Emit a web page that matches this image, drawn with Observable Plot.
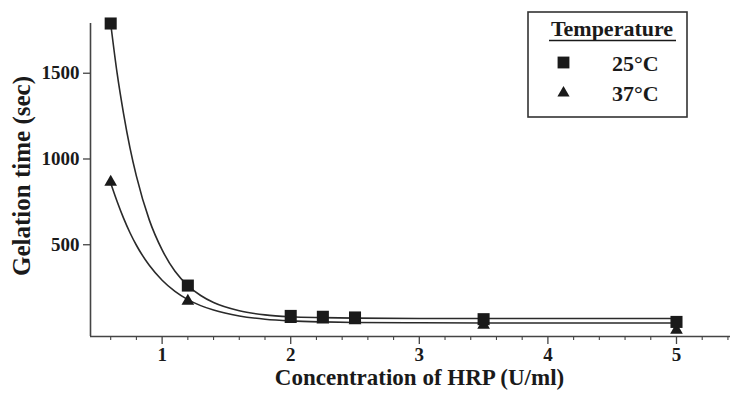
<!DOCTYPE html>
<html>
<head>
<meta charset="utf-8">
<script src="https://cdn.jsdelivr.net/npm/d3@7"></script>
<script src="https://cdn.jsdelivr.net/npm/@observablehq/plot@0.6"></script>
<style>
  html, body { margin: 0; padding: 0; background: #fff; }
  #wrap { position: relative; width: 732px; height: 394px; }
  #legend { position: absolute; left: 0; top: 0; pointer-events: none; }
</style>
</head>
<body>
<div id="wrap"></div>
<script>
// Measured data points
const conc = [0.6, 1.2, 2.0, 2.25, 2.5, 3.5, 5.0];
const t25 = [1790, 262, 85, 80, 76, 66, 50];
const t37 = [865, 172, 65, 62, 58, 32, 3];

// Fitted curves
const curveX = [0.6, 0.65, 0.7, 0.75, 0.8, 0.9, 1.0, 1.1, 1.2, 1.3, 1.4, 1.6, 1.8, 2.0, 2.25, 2.5, 3.0, 3.5, 4.0, 5.0];
const fit25 = [1790, 1500, 1265, 1065, 900, 645, 470, 345, 262, 204, 163, 115, 91, 80, 75, 72, 70, 70, 70, 70];
const fit37 = [860, 752, 655, 570, 497, 380, 293, 228, 180, 145, 119, 85, 66, 56, 50, 47, 45, 44, 44, 44];

// Axis ticks
const xTicks = [1, 2, 3, 4, 5];
const xMinorTicks = [0.6, 0.8, 1.2, 1.4, 1.6, 1.8, 2.2, 2.4, 2.6, 2.8, 3.2, 3.4, 3.6, 3.8, 4.2, 4.4, 4.6, 4.8, 5.2, 5.4];
const yTicks = [500, 1000, 1500];

const series = ["25°C", "37°C"];
const xDomain = [0.443, 5.42];
const yDomain = [-35, 1790];

const pts25 = conc.map((c, i) => ({x: c, y: t25[i]}));
const pts37 = conc.map((c, i) => ({x: c, y: t37[i]}));
const line25 = curveX.map((c, i) => ({x: c, y: fit25[i]}));
const line37 = curveX.map((c, i) => ({x: c, y: fit37[i]}));

const ink = "#1a1a1a";
const font = "'Liberation Serif', 'Times New Roman', serif";
const fmt = d => String(d);

const chart = Plot.plot({
  width: 732,
  height: 394,
  marginLeft: 90,
  marginRight: 2,
  marginTop: 23,
  marginBottom: 58,
  style: {fontFamily: font, fontWeight: "bold", fontSize: "19px", color: ink, background: "#fff", overflow: "visible"},
  x: {domain: xDomain, label: null},
  y: {domain: yDomain, label: null},
  marks: [
    Plot.ruleY([yDomain[0]], {stroke: "#444", strokeWidth: 1.6}),
    Plot.ruleX([xDomain[0]], {stroke: "#444", strokeWidth: 1.6}),
    Plot.axisX({ticks: xTicks, tickFormat: fmt, tickSize: 8, tickPadding: 3, label: null, stroke: "#444", strokeWidth: 1.3, fontSize: 19, fontWeight: "bold"}),
    Plot.axisX({ticks: xMinorTicks, tickSize: 4, text: null, label: null, stroke: "#444", strokeWidth: 1.1}),
    Plot.axisY({ticks: yTicks, tickFormat: fmt, tickSize: 7, tickPadding: 4, label: null, stroke: "#444", strokeWidth: 1.3, fontSize: 19, fontWeight: "bold"}),
    Plot.line(line25, {x: "x", y: "y", curve: "monotone-x", stroke: "#2a2a2a", strokeWidth: 1.6}),
    Plot.line(line37, {x: "x", y: "y", curve: "monotone-x", stroke: "#2a2a2a", strokeWidth: 1.6}),
    Plot.dot(pts37, {x: "x", y: "y", symbol: "triangle", r: 4.7, fill: ink, stroke: "none"}),
    Plot.dot(pts25, {x: "x", y: "y", symbol: "square", r: 6.8, fill: ink, stroke: "none"}),
    Plot.text(["Concentration of HRP (U/ml)"], {text: d => d, frameAnchor: "bottom", textAnchor: "middle", lineAnchor: "middle", dx: 9, dy: 41, fontSize: 23, fontWeight: "bold", fill: ink}),
    Plot.text(["Gelation time (sec)"], {text: d => d, frameAnchor: "left", textAnchor: "middle", lineAnchor: "middle", rotate: -90, dx: -69, dy: -4, fontSize: 25, fontWeight: "bold", fill: ink})
  ]
});

const wrap = document.getElementById("wrap");
wrap.appendChild(chart);

// Legend
const leg = d3.select(wrap).append("svg")
  .attr("id", "legend")
  .attr("width", 732).attr("height", 394)
  .style("font-family", font).style("font-weight", "bold");
leg.append("rect").attr("x", 528).attr("y", 12).attr("width", 159).attr("height", 105)
  .attr("fill", "#fff").attr("stroke", "#333").attr("stroke-width", 1.6);
leg.append("text").attr("x", 612).attr("y", 36).attr("text-anchor", "middle")
  .attr("font-size", 22).attr("fill", ink).text("Temperature");
leg.append("line").attr("x1", 549).attr("x2", 676).attr("y1", 40.5).attr("y2", 40.5)
  .attr("stroke", ink).attr("stroke-width", 1.6);
const rows = [{sym: d3.symbolSquare, size: 140, y: 62.5}, {sym: d3.symbolTriangle, size: 64, y: 93}];
rows.forEach((r, i) => {
  leg.append("path").attr("transform", `translate(563.5,${r.y})`)
    .attr("d", d3.symbol(r.sym, r.size)()).attr("fill", ink);
  leg.append("text").attr("x", 612).attr("y", r.y + 8).attr("font-size", 22)
    .attr("fill", ink).text(series[i]);
});
</script>
</body>
</html>
